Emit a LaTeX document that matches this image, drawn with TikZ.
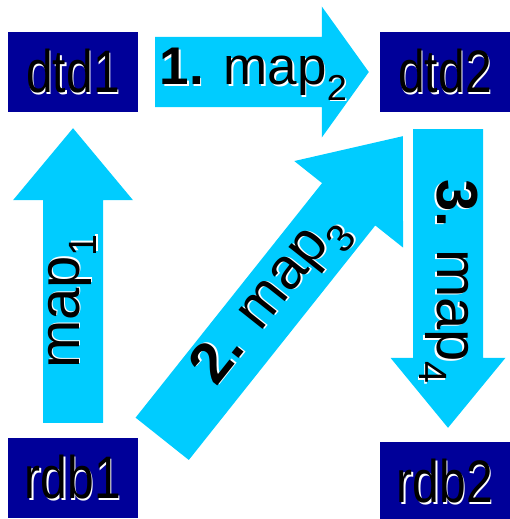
\documentclass[tikz,border=0pt]{standalone}
\usepackage{fontspec}
\setmainfont{Liberation Sans}
\usetikzlibrary{calc}

\definecolor{boxblue}{RGB}{0,0,153}
\definecolor{arrowcyan}{RGB}{0,204,255}

% black text with a white copy set a little down and right
\newcommand{\shadowed}[1]{\rlap{\kern1.5pt\raisebox{-1.5pt}{\color{white}#1}}#1}
% lowered index in the text font
\newcommand{\idx}[1]{\raisebox{-0.3em}{\fontsize{0.68em}{0pt}\selectfont #1}}
% block arrow: tail, tip, half shaft width, half head width, head length
\newcommand{\bigarrow}[5]{%
    \coordinate (#2-base) at ($(#2)!#5!(#1)$);
    \fill[arrowcyan] ($(#1)!#3!90:(#2)$) -- ($(#2-base)!#3!90:(#2)$)
        -- ($(#2-base)!#4!90:(#2)$) -- (#2) -- ($(#2-base)!#4!-90:(#2)$)
        -- ($(#2-base)!#3!-90:(#2)$) -- ($(#1)!#3!-90:(#2)$) -- cycle;}

\begin{document}
\begin{tikzpicture}
[
    x = 1pt, y = -1pt,
    db/.style = {fill = boxblue, minimum width = 130pt, minimum height = 80pt, inner sep = 0,
                 font = \fontsize{60}{60}\selectfont},
    maplbl/.style = {inner sep = 0, font = \fontsize{58}{58}\selectfont}]

\useasboundingbox (0,0) rectangle (510,519);

\node[db] (dtd1) at (73,72) {\scalebox{0.8}[1]{\shadowed{dtd1}}};
\node[db] (dtd2) at (445,72) {\scalebox{0.8}[1]{\shadowed{dtd2}}};
\node[db] (rdb1) at (73,478) {\scalebox{0.8}[1]{\shadowed{rdb1}}};
\node[db] (rdb2) at (445,482) {\scalebox{0.8}[1]{\shadowed{rdb2}}};

\coordinate (m1a) at ($(rdb1.north)+(0,-15)$);
\coordinate (m1b) at ($(dtd1.south)+(0,16)$);
\coordinate (m2a) at ($(dtd1.east)+(17,0)$);
\coordinate (m2b) at ($(dtd2.west)+(-11,0)$);
\coordinate (m3a) at ($(rdb1.north east)+(24,1)$);
\coordinate (m3b) at ($(dtd2.south west)+(23,24)$);
\coordinate (m4a) at ($(dtd2.south)+(3,17)$);
\coordinate (m4b) at ($(rdb2.north)+(3,-14)$);

\bigarrow{m1a}{m1b}{30pt}{60pt}{72pt}
\bigarrow{m2a}{m2b}{35pt}{65.5pt}{47pt}
\bigarrow{m3a}{m3b}{34pt}{69.5pt}{87pt}
\bigarrow{m4a}{m4b}{35pt}{57.5pt}{70pt}

\path (m1a) -- (m1b) node[maplbl, pos = .405, rotate = 90, xshift = 2pt] {\shadowed{map\idx{1}}};
\path (m2a) -- (m2b) node[maplbl, pos = .46, yshift = -3pt, font = \fontsize{53}{53}\selectfont]
    {\shadowed{\textbf{1.} map\idx{2}}};
\path (m3a) -- (m3b) node[maplbl, pos = .457, rotate = 51.5] {\shadowed{\textbf{2.} map\idx{3}}};
\path (m4a) -- (m4b) node[maplbl, pos = .5, rotate = -90, xshift = 3pt] {\shadowed{\textbf{3.} map\idx{4}}};

\end{tikzpicture}
\end{document}
